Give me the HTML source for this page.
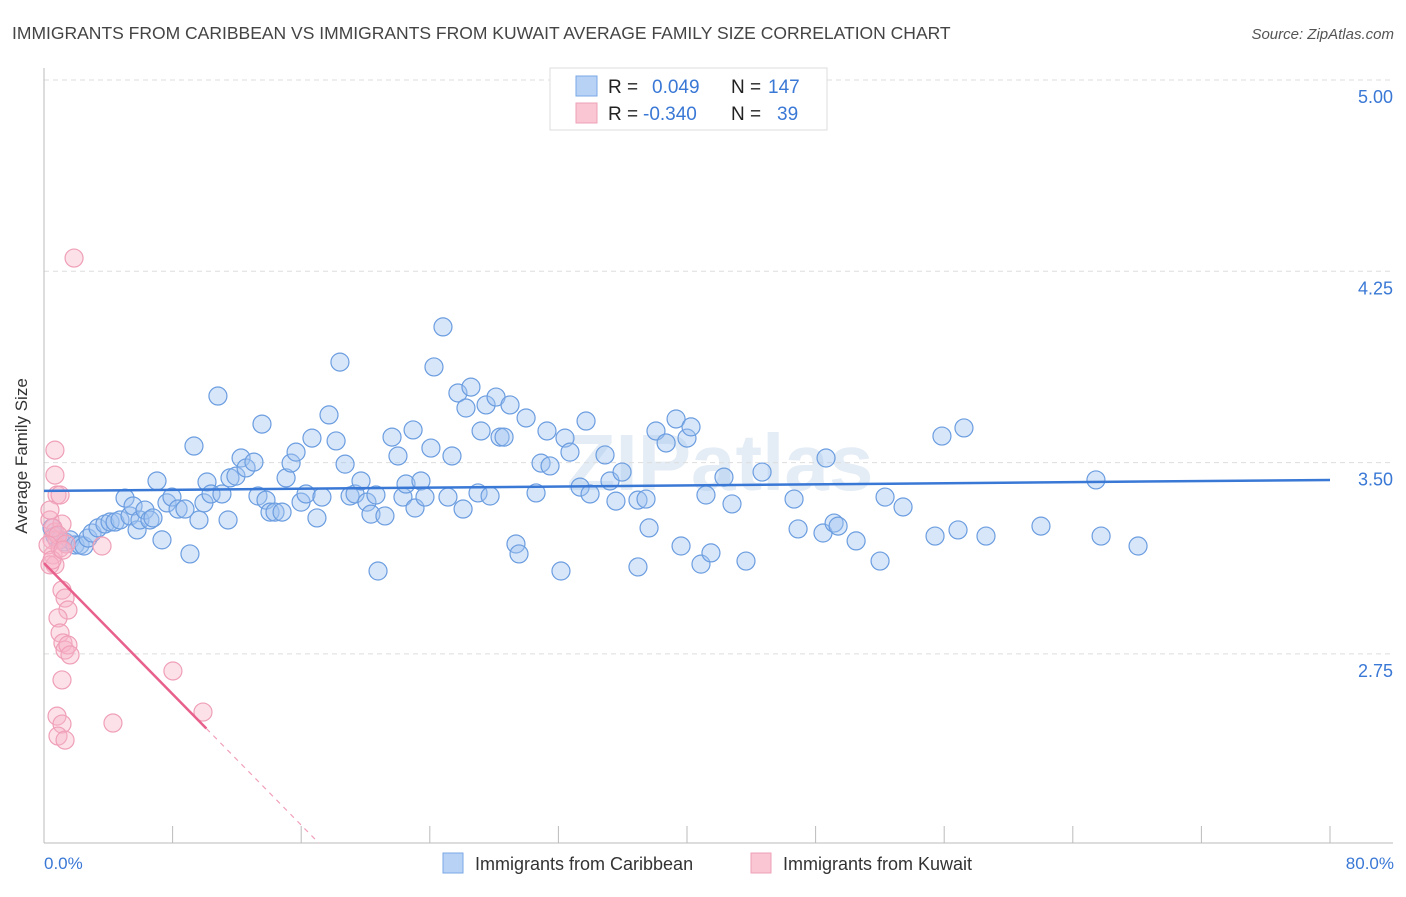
<!DOCTYPE html>
<html><head><meta charset="utf-8"><style>
body{margin:0;background:#fff;font-family:"Liberation Sans",sans-serif;}
svg text{font-family:"Liberation Sans",sans-serif;}
</style></head><body>
<svg id="chart" width="1406" height="892">
<text x="12" y="39" font-size="17.5" fill="#444">IMMIGRANTS FROM CARIBBEAN VS IMMIGRANTS FROM KUWAIT AVERAGE FAMILY SIZE CORRELATION CHART</text>
<text x="1394" y="39" font-size="15" fill="#555" font-style="italic" text-anchor="end">Source: ZipAtlas.com</text>
<text x="720" y="490" font-size="80" fill="#e4ecf5" text-anchor="middle" font-weight="bold">ZIPatlas</text>
<g id="grid"></g><g id="axes"></g><g id="pts"></g><g id="lines"></g>
<text x="27" y="456" font-size="17" fill="#333" text-anchor="middle" transform="rotate(-90 27 456)">Average Family Size</text>
<text x="44" y="869" font-size="17" fill="#3a78d6">0.0%</text>
<text x="1394" y="869" font-size="17" fill="#3a78d6" text-anchor="end">80.0%</text>
<g>
<rect x="550" y="68" width="277" height="62" fill="#fff" stroke="#ddd"/>
<rect x="576" y="76" width="21" height="20" fill="#b8d2f5" stroke="#7aa8e6"/>
<rect x="576" y="103" width="21" height="20" fill="#fbc6d4" stroke="#eea0b6"/>
<text x="608" y="93" font-size="19" fill="#222">R =</text><text x="652" y="93" font-size="19" fill="#3a78d6">0.049</text>
<text x="731" y="93" font-size="19" fill="#222">N =</text><text x="768" y="93" font-size="19" fill="#3a78d6">147</text>
<text x="608" y="120" font-size="19" fill="#222">R =</text><text x="643" y="120" font-size="19" fill="#3a78d6">-0.340</text>
<text x="731" y="120" font-size="19" fill="#222">N =</text><text x="777" y="120" font-size="19" fill="#3a78d6">39</text>
</g>
<g>
<rect x="443" y="853" width="20" height="20" fill="#b8d2f5" stroke="#7aa8e6"/>
<text x="475" y="870" font-size="18" fill="#333">Immigrants from Caribbean</text>
<rect x="751" y="853" width="20" height="20" fill="#fbc6d4" stroke="#eea0b6"/>
<text x="783" y="870" font-size="18" fill="#333">Immigrants from Kuwait</text>
</g>
</svg>
<script>
const yTicks=[5.00,4.25,3.50,2.75];
const xTickVals=[0,8,16,24,32,40,48,56,64,72,80];
const blueX=[0.50,0.68,1.00,1.31,1.62,1.93,2.24,2.49,2.74,2.99,3.36,3.79,4.11,4.42,4.73,5.04,5.35,5.54,5.79,5.97,6.28,6.59,6.78,7.03,7.34,7.65,7.96,8.34,8.77,9.08,9.33,9.64,9.95,10.14,10.39,10.82,11.07,11.45,11.57,11.94,12.26,12.57,13.06,13.31,13.56,13.81,14.06,14.37,14.81,15.06,15.37,15.68,15.99,16.30,16.67,16.98,17.29,17.73,18.17,18.41,18.73,19.04,19.35,19.72,20.09,20.34,20.65,20.78,21.21,21.65,22.02,22.33,22.52,22.96,23.08,23.45,23.70,24.07,24.26,24.82,25.13,25.38,25.75,26.07,26.25,26.56,27.00,27.19,27.50,27.75,28.12,28.37,28.62,28.99,29.36,29.55,29.99,30.61,30.92,31.29,31.48,32.16,32.41,32.72,33.35,33.72,33.97,34.90,35.21,35.58,35.96,36.95,37.45,37.64,36.95,38.07,38.70,39.32,39.63,40.00,40.25,40.87,41.18,41.49,42.30,42.80,43.67,44.67,46.66,46.91,48.46,48.65,49.15,49.40,50.52,52.01,52.32,53.44,55.43,55.86,56.86,57.23,58.60,62.02,65.44,65.76,68.06];
const blueY=[3.244,3.212,3.197,3.189,3.197,3.177,3.177,3.173,3.204,3.224,3.244,3.259,3.267,3.267,3.275,3.361,3.291,3.330,3.236,3.275,3.314,3.275,3.283,3.428,3.197,3.342,3.365,3.318,3.318,3.142,3.565,3.275,3.342,3.424,3.377,3.761,3.377,3.275,3.440,3.447,3.518,3.479,3.502,3.369,3.651,3.353,3.306,3.306,3.306,3.440,3.498,3.541,3.345,3.377,3.596,3.283,3.365,3.687,3.585,3.894,3.494,3.369,3.377,3.428,3.345,3.298,3.373,3.075,3.291,3.600,3.526,3.365,3.416,3.628,3.322,3.428,3.365,3.557,3.875,4.032,3.365,3.526,3.773,3.318,3.714,3.796,3.381,3.624,3.726,3.369,3.757,3.600,3.600,3.726,3.181,3.142,3.675,3.381,3.498,3.624,3.487,3.075,3.596,3.541,3.404,3.663,3.377,3.530,3.428,3.349,3.463,3.353,3.357,3.244,3.091,3.624,3.577,3.671,3.173,3.596,3.640,3.102,3.373,3.146,3.443,3.338,3.114,3.463,3.357,3.240,3.224,3.518,3.263,3.251,3.193,3.114,3.365,3.326,3.212,3.604,3.236,3.636,3.212,3.251,3.432,3.212,3.173];
const pinkX=[0.37,0.50,0.68,0.81,0.56,0.68,0.37,0.81,0.68,0.68,1.00,1.12,1.00,1.12,1.31,1.49,0.87,1.00,1.18,1.31,1.49,1.62,1.12,0.81,1.12,0.87,1.31,3.61,1.87,4.29,8.02,9.89,0.56,0.87,0.25,1.37,0.37,0.50,1.18];
const pinkY=[3.275,3.197,3.228,3.197,3.138,3.099,3.099,3.373,3.451,3.549,3.373,3.259,3.165,3.000,2.969,2.922,2.891,2.832,2.793,2.765,2.785,2.746,2.648,2.506,2.475,2.428,2.412,3.173,4.302,2.479,2.683,2.522,3.244,3.216,3.177,3.181,3.314,3.118,3.157];
const blueTrend=[3.389,3.432];
const pinkTrend=[3.106,-0.0642];
const NS="http://www.w3.org/2000/svg";
const X=v=>44+v*16.075, Y=v=>80+(5-v)*255.07;
function mk(t,a,p){const e=document.createElementNS(NS,t);for(const k in a)e.setAttribute(k,a[k]);p.appendChild(e);return e;}
const grid=document.getElementById('grid'),axes=document.getElementById('axes'),pts=document.getElementById('pts'),lines=document.getElementById('lines');
yTicks.forEach(v=>{
 const l=mk('line',{x1:44,x2:1393,y1:Y(v),y2:Y(v),stroke:'#ddd','stroke-dasharray':'5,4'},grid);
 
 
 const t=mk('text',{x:1393,y:Y(v)+23,'font-size':18,fill:'#3a78d6','text-anchor':'end'},grid);
 t.textContent=v.toFixed(2);
 
 
});
const ax=mk('line',{x1:44,x2:44,y1:68,y2:843,stroke:'#bbb'},axes);


const bx=mk('line',{x1:44,x2:1393,y1:843,y2:843,stroke:'#bbb'},axes);


xTickVals.forEach(v=>{
 const t=mk('line',{x1:X(v),x2:X(v),y1:826,y2:843,stroke:'#bbb'},axes);
 
 
});
blueX.forEach((x,i)=>{
 const c=mk('circle',{cx:X(x),cy:Y(blueY[i]),r:9,fill:'rgba(160,196,240,0.42)',stroke:'#6b9de0','stroke-width':1.2},pts);
 
 
});
pinkX.forEach((x,i)=>{
 const c=mk('circle',{cx:X(x),cy:Y(pinkY[i]),r:9,fill:'rgba(248,180,200,0.4)',stroke:'#ef9fb7','stroke-width':1.2},pts);
 
 
});
const bl=mk('line',{x1:X(0),x2:X(80),y1:Y(blueTrend[0]),y2:Y(blueTrend[1]),stroke:'#3a78d6','stroke-width':2.5},lines);


const pv=x=>pinkTrend[0]+pinkTrend[1]*x;
const pl=mk('line',{x1:X(0),x2:X(10.1),y1:Y(pv(0)),y2:Y(pv(10.1)),stroke:'#e8608c','stroke-width':2.5},lines);


const pd=mk('line',{x1:X(10.1),x2:X(17.1),y1:Y(pv(10.1)),y2:Y(pv(17.1)),stroke:'#f0a0b8','stroke-width':1.2,'stroke-dasharray':'5,5'},lines);


</script>
</body></html>
